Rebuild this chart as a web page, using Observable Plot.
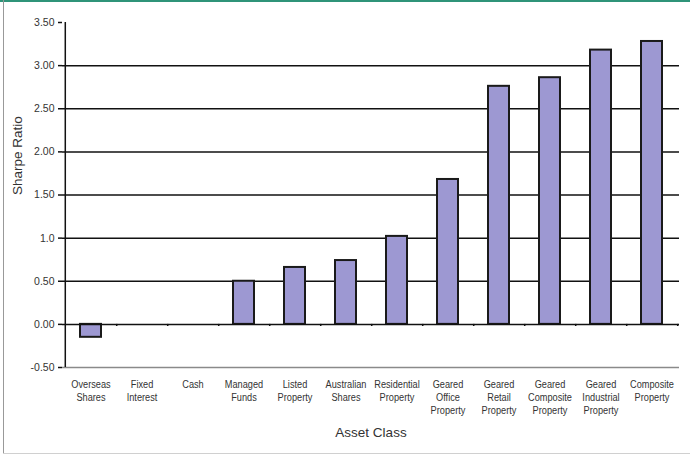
<!DOCTYPE html>
<html><head><meta charset="utf-8">
<script src="https://cdn.jsdelivr.net/npm/d3@7"></script>
<script src="https://cdn.jsdelivr.net/npm/@observablehq/plot@0.6"></script>
<style>
body{margin:0;background:#fff;}
#wrap{position:relative;width:690px;height:457px;overflow:hidden;}
.deco{position:absolute;pointer-events:none;}
</style></head><body>
<div id="wrap"><div id="chart"></div>
<div class="deco" style="left:0;top:0;width:690px;height:2px;background:#2f9479"></div>
<div class="deco" style="left:3px;top:0;width:1px;height:453px;background:#999"></div>
<div class="deco" style="left:3px;top:453px;width:687px;height:1px;background:#d0d0d0"></div>
</div>
<script>
const categories = ["Overseas Shares","Fixed Interest","Cash","Managed Funds","Listed Property","Australian Shares","Residential Property","Geared Office Property","Geared Retail Property","Geared Composite Property","Geared Industrial Property","Composite Property"];
const sharpe = [-0.15, 0, 0, 0.50, 0.66, 0.74, 1.02, 1.68, 2.76, 2.86, 3.18, 3.28];
const yTicks = [-0.5, 0, 0.5, 1, 1.5, 2, 2.5, 3, 3.5];
const yTickLabels = ["-0.50","0.00","0.50","1.0","1.50","2.00","2.50","3.00","3.50"];
const gridValues = [0.5, 1, 1.5, 2, 2.5, 3];
const yTitle = "Sharpe Ratio";
const xTitle = "Asset Class";

const width = 690, height = 457, ml = 62, mr = 11, mt = 22, mb = 90;
const step = (width - ml - mr) / categories.length;
const data = categories.map((c, i) => ({category: c, value: sharpe[i]}));

const chart = Plot.plot({
  width, height, marginLeft: ml, marginRight: mr, marginTop: mt, marginBottom: mb,
  style: {fontFamily: "'Liberation Sans', Arial, sans-serif", background: "#fff", color: "#222"},
  x: {domain: categories, paddingInner: 0.59, paddingOuter: 0.295},
  y: {domain: [-0.5, 3.5]},
  marks: [
    Plot.ruleY(gridValues, {stroke: "#111", strokeWidth: 1.5}),
    Plot.ruleY([-0.5], {stroke: "#8a8a8a", strokeWidth: 1.5}),
    Plot.ruleX([categories[0]], {x: d => d, dx: -step / 2, y1: -0.5, y2: 3.5, stroke: "#111", strokeWidth: 1.5}),
    Plot.barY(data, {x: "category", y: "value", fill: "#9d98d2", stroke: "#1a1a1a", strokeWidth: 2}),
    Plot.ruleY([0], {stroke: "#111", strokeWidth: 1.5}),
    Plot.ruleX(categories, {x: d => d, dx: step / 2, y1: 0, y2: -0.025, stroke: "#111", strokeWidth: 1.5}),
    Plot.axisY({ticks: yTicks, tickFormat: d => yTickLabels[yTicks.indexOf(d)], tickSize: 4, tickPadding: 4,
      fontSize: 10.5, color: "#333", stroke: "#111", strokeWidth: 1.5, label: null}),
    Plot.axisX({tickSize: 0, tickPadding: 11, tickFormat: d => d.split(" ").join("\n"), lineHeight: 1.13,
      fontFamily: "'Liberation Sans', Arial, sans-serif", fontSize: 11.5, color: "#333", label: null}),
    Plot.text([yTitle], {text: d => d, frameAnchor: "left", rotate: -90, dx: -45, fontSize: 13.5, fill: "#333"}),
    Plot.text([xTitle], {text: d => d, frameAnchor: "bottom", dy: 69, fontSize: 13.5, fill: "#333"})
  ]
});
// emulate a narrow typeface for the category labels by compressing them horizontally
const labelKeys = new Set(categories.map(c => c.replace(/ /g, "")));
d3.select(chart).selectAll("text").filter(function() {
  return labelKeys.has(this.textContent.replace(/\s/g, ""));
}).each(function() {
  const el = d3.select(this);
  const t = el.attr("transform") || "";
  el.attr("transform", (t + " scale(0.8,1)").trim());
});
document.getElementById("chart").append(chart);
</script>
</body></html>
